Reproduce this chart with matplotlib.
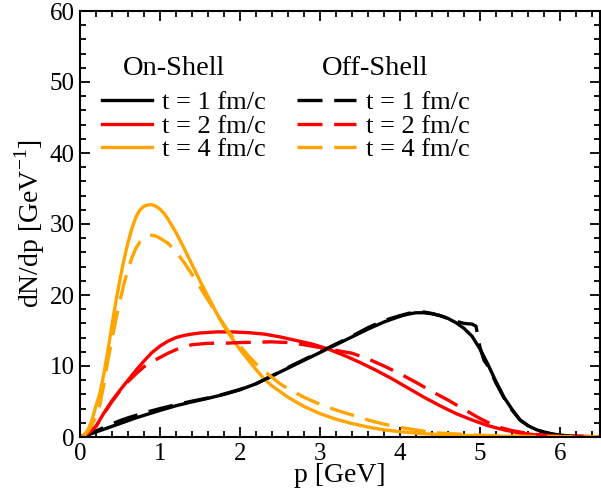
import numpy as np
import matplotlib
matplotlib.use("Agg")
import matplotlib.pyplot as plt
from matplotlib.ticker import MultipleLocator

plt.rcParams['font.family'] = 'Liberation Serif'
plt.rcParams['mathtext.fontset'] = 'custom'
plt.rcParams['mathtext.rm'] = 'Liberation Serif'

# dN/dp vs p
p_t1_on = [0, 0.1, 0.2, 0.3, 0.4, 0.5, 0.6, 0.7, 0.8, 0.9, 1.0, 1.2, 1.4, 1.6, 1.8, 2.0, 2.2,
           2.4, 2.6, 2.8, 3.0, 3.2, 3.4, 3.6, 3.8, 4.0, 4.1, 4.2, 4.3, 4.4, 4.5, 4.6, 4.7,
           4.8, 4.9, 5.0, 5.1, 5.2, 5.3, 5.4, 5.5, 5.6, 5.7, 5.8, 5.9, 6.0, 6.2, 6.5]
n_t1_on = [0, 0.3, 0.7, 1.1, 1.5, 1.9, 2.3, 2.7, 3.05, 3.4, 3.75, 4.4, 4.95, 5.45, 6.0, 6.65,
           7.5, 8.6, 9.7, 10.8, 11.9, 13.0, 14.1, 15.2, 16.2, 17.0, 17.3, 17.5, 17.5, 17.35,
           17.1, 16.7, 16.1, 15.3, 14.2, 12.4, 10.2, 7.8, 5.6, 3.9, 2.4, 1.6, 1.05, 0.7,
           0.45, 0.25, 0.1, 0.02]

p_t1_off = [0, 0.1, 0.2, 0.3, 0.4, 0.5, 0.6, 0.7, 0.8, 0.9, 1.0, 1.2, 1.4, 1.6, 1.8, 2.0, 2.2,
            2.4, 2.6, 2.8, 3.0, 3.2, 3.4, 3.6, 3.8, 4.0, 4.1, 4.2, 4.3, 4.4, 4.5, 4.6, 4.7,
            4.8, 4.9, 4.95, 5.0, 5.05, 5.1, 5.2, 5.3, 5.4, 5.5, 5.6, 5.7, 5.8, 5.9, 6.0,
            6.2, 6.5]
n_t1_off = [0, 0.35, 0.85, 1.35, 1.85, 2.3, 2.7, 3.05, 3.4, 3.7, 4.0, 4.55, 5.05, 5.5, 6.05,
            6.7, 7.5, 8.6, 9.8, 10.9, 12.0, 13.1, 14.2, 15.4, 16.4, 17.1, 17.4, 17.6, 17.6,
            17.4, 17.1, 16.7, 16.3, 16.0, 15.9, 15.6, 12.6, 10.8, 10.0, 7.6, 5.5, 3.8, 2.4,
            1.6, 1.0, 0.65, 0.4, 0.22, 0.08, 0.02]

p_t2_on = [0, 0.1, 0.2, 0.3, 0.4, 0.5, 0.6, 0.7, 0.8, 0.9, 1.0, 1.1, 1.2, 1.3, 1.4, 1.5, 1.7,
           1.9, 2.1, 2.3, 2.5, 2.7, 2.9, 3.1, 3.3, 3.5, 3.7, 3.9, 4.1, 4.3, 4.5, 4.7, 4.9,
           5.1, 5.3, 5.5, 5.7, 5.9, 6.1, 6.5]
n_t2_on = [0, 0.5, 1.5, 3.4, 5.1, 6.6, 8.0, 9.4, 10.7, 11.9, 12.8, 13.5, 14.0, 14.3, 14.5,
           14.65, 14.8, 14.8, 14.7, 14.5, 14.1, 13.6, 13.1, 12.4, 11.5, 10.5, 9.4, 8.2, 6.9,
           5.6, 4.4, 3.3, 2.4, 1.6, 1.0, 0.55, 0.3, 0.15, 0.07, 0.02]

p_t2_off = [0, 0.1, 0.2, 0.3, 0.4, 0.5, 0.6, 0.7, 0.8, 0.9, 1.0, 1.1, 1.2, 1.3, 1.4, 1.6, 1.8,
            2.0, 2.2, 2.4, 2.6, 2.8, 3.0, 3.2, 3.4, 3.6, 3.8, 4.0, 4.2, 4.4, 4.6, 4.8, 5.0,
            5.2, 5.4, 5.6, 5.8, 6.0, 6.5]
n_t2_off = [0, 0.5, 1.5, 3.3, 5.0, 6.5, 7.8, 8.9, 9.9, 10.6, 11.2, 11.8, 12.3, 12.7, 13.0,
            13.2, 13.2, 13.3, 13.35, 13.4, 13.3, 13.0, 12.6, 12.2, 11.8, 11.0, 10.0, 8.9,
            7.7, 6.4, 5.2, 3.9, 2.6, 1.5, 0.9, 0.5, 0.25, 0.12, 0.03]

p_t4_on = [0, 0.05, 0.1, 0.15, 0.2, 0.25, 0.3, 0.35, 0.4, 0.45, 0.5, 0.55, 0.6, 0.65, 0.7,
           0.75, 0.8, 0.85, 0.9, 0.95, 1.0, 1.05, 1.1, 1.2, 1.3, 1.4, 1.5, 1.6, 1.7, 1.8,
           1.9, 2.0, 2.1, 2.2, 2.3, 2.4, 2.5, 2.6, 2.8, 3.0, 3.2, 3.4, 3.6, 3.8, 4.0, 4.25,
           4.5, 5.0, 5.5, 6.0, 6.5]
n_t4_on = [0, 0.3, 1.0, 2.4, 4.4, 6.2, 9.0, 12.3, 15.8, 19.2, 22.2, 25.0, 27.4, 29.4, 31.0,
           32.0, 32.5, 32.7, 32.7, 32.5, 32.1, 31.5, 30.7, 28.8, 26.6, 24.3, 22.0, 19.8, 17.6,
           15.6, 13.9, 12.3, 10.9, 9.5, 8.2, 7.2, 6.4, 5.6, 4.3, 3.3, 2.5, 1.9, 1.4, 1.0,
           0.75, 0.5, 0.35, 0.15, 0.06, 0.02, 0]

p_t4_off = [0, 0.05, 0.1, 0.15, 0.2, 0.25, 0.3, 0.35, 0.4, 0.45, 0.5, 0.55, 0.6, 0.65, 0.7,
            0.75, 0.8, 0.85, 0.9, 0.95, 1.0, 1.1, 1.2, 1.3, 1.4, 1.5, 1.6, 1.7, 1.8, 1.9,
            2.0, 2.1, 2.2, 2.3, 2.4, 2.5, 2.6, 2.8, 3.0, 3.2, 3.4, 3.6, 3.8, 4.0, 4.25, 4.5,
            5.0, 5.5, 6.0, 6.5]
n_t4_off = [0, 0.2, 0.8, 1.7, 2.9, 4.6, 7.5, 10.9, 13.8, 16.6, 19.2, 21.6, 23.6, 25.3, 26.6,
            27.5, 28.0, 28.3, 28.4, 28.3, 28.0, 27.3, 26.1, 24.6, 22.9, 21.1, 19.3, 17.5,
            15.8, 14.2, 12.8, 11.5, 10.3, 9.3, 8.4, 7.5, 6.8, 5.6, 4.6, 3.8, 3.1, 2.4, 1.8,
            1.35, 0.9, 0.55, 0.25, 0.1, 0.05, 0.02]

labels = ['t = 1 fm/c', 't = 2 fm/c', 't = 4 fm/c']
colors = ['black', '#ff0000', '#ffa500']

fig = plt.figure(figsize=(6.01, 4.95), dpi=100)
ax = fig.add_axes([80/601, 58/495, 520/601, 426/495])

LW = 2.4
DASH = (7.5, 3.5)
on_lines = []
off_lines = []
for p, n, c, lab in zip([p_t1_on, p_t2_on, p_t4_on], [n_t1_on, n_t2_on, n_t4_on], colors, labels):
    l, = ax.plot(p, n, color=c, lw=LW, label=lab, solid_joinstyle='round')
    on_lines.append(l)
for p, n, c, lab in zip([p_t1_off, p_t2_off, p_t4_off], [n_t1_off, n_t2_off, n_t4_off], colors, labels):
    l, = ax.plot(p, n, color=c, lw=LW, dashes=DASH, label=lab)
    off_lines.append(l)

ax.set_xlim(0, 6.5)
ax.set_ylim(0, 60)
ax.xaxis.set_major_locator(MultipleLocator(1))
ax.xaxis.set_minor_locator(MultipleLocator(0.2))
ax.yaxis.set_major_locator(MultipleLocator(10))
ax.yaxis.set_minor_locator(MultipleLocator(2))
ax.tick_params(which='both', direction='in', top=True, right=True, width=1.3, labelsize=18)
ax.tick_params(which='major', length=7, pad=4)
ax.tick_params(which='minor', length=4)
for s in ax.spines.values():
    s.set_linewidth(1.5)

ax.set_xlabel('p [GeV]', fontsize=20, labelpad=-1)
ax.set_ylabel(r'dN/dp [GeV$^{\mathrm{-1}}$]', fontsize=20, labelpad=2)

# column headers of the two-column legend
fig.text(174/601, 1 - 75/495, 'On-Shell', fontsize=20.5, ha='center', va='baseline')
fig.text(375.5/601, 1 - 75/495, 'Off-Shell', fontsize=20.5, ha='center', va='baseline')

kw = dict(frameon=False, fontsize=19, handletextpad=0.38, labelspacing=0.0,
          borderpad=0, borderaxespad=0, loc='upper left', bbox_transform=fig.transFigure)
leg1 = ax.legend(handles=on_lines, handlelength=1.9,
                 bbox_to_anchor=(101.5/601, 1 - 91/495), **kw)
ax.add_artist(leg1)
leg2 = ax.legend(handles=off_lines, handlelength=2.27,
                 bbox_to_anchor=(296.5/601, 1 - 91/495), **kw)

fig.savefig('out.png', dpi=100)
